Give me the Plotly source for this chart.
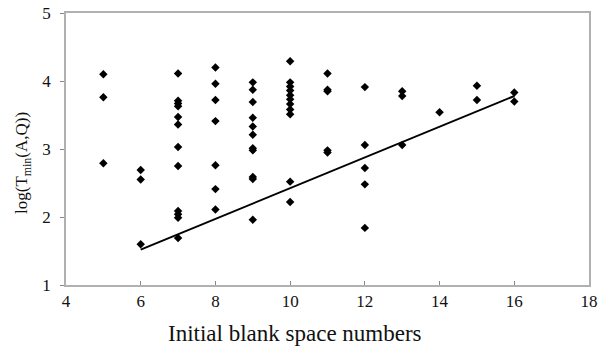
import plotly.graph_objects as go

# blank space numbers and log(Tmin) values
x5 = [4.10, 3.76, 2.79]
x6 = [2.69, 2.55, 1.60]
x7 = [4.11, 3.71, 3.67, 3.63, 3.47, 3.36, 3.03, 2.75, 2.09, 2.04, 1.99, 1.69]
x8 = [4.20, 3.96, 3.72, 3.41, 2.76, 2.41, 2.11]
x9 = [3.98, 3.87, 3.69, 3.46, 3.33, 3.21, 3.01, 2.98, 2.59, 2.56, 1.96]
x10 = [4.29, 3.98, 3.92, 3.86, 3.79, 3.73, 3.66, 3.58, 3.51, 2.52, 2.22]
x11 = [4.11, 3.87, 3.85, 2.98, 2.95]
x12 = [3.91, 3.06, 2.72, 2.48, 1.84]
x13 = [3.85, 3.78, 3.06]
x14 = [3.54]
x15 = [3.93, 3.72]
x16 = [3.83, 3.70]

groups = {5: x5, 6: x6, 7: x7, 8: x8, 9: x9, 10: x10, 11: x11,
          12: x12, 13: x13, 14: x14, 15: x15, 16: x16}

# fitted line end points
fit_x = [6, 16]
fit_y = [1.52, 3.78]

xs, ys = [], []
for k, vals in groups.items():
    xs += [k] * len(vals)
    ys += vals

fig = go.Figure()
fig.add_trace(go.Scatter(x=fit_x, y=fit_y, mode="lines",
                         line=dict(color="black", width=2), showlegend=False))
fig.add_trace(go.Scatter(x=xs, y=ys, mode="markers",
                         marker=dict(symbol="diamond", size=6.5, color="black"),
                         showlegend=False))

font = "Liberation Serif, Times New Roman, serif"
fig.update_layout(
    width=604, height=348,
    margin=dict(l=66, r=15, t=13, b=63),
    paper_bgcolor="white", plot_bgcolor="white",
    font=dict(family=font, size=17, color="#111"),
)
fig.update_xaxes(range=[4, 18], tickvals=[4, 6, 8, 10, 12, 14, 16, 18],
                 showgrid=False, zeroline=False, showline=True, mirror=True,
                 linecolor="#b0b0b0", linewidth=1.5, ticks="inside", ticklen=4,
                 tickcolor="#888", automargin=False, ticklabeloverflow="allow")
fig.update_yaxes(range=[1, 5], tickvals=[1, 2, 3, 4, 5],
                 showgrid=False, zeroline=False, showline=True, mirror=True,
                 linecolor="#b0b0b0", linewidth=1.5, ticks="outside", ticklen=4,
                 tickcolor="#888", ticklabelstandoff=6, automargin=False,
                 ticklabeloverflow="allow")

fig.add_annotation(text="Initial blank space numbers", xref="paper", yref="paper",
                   x=0.438, y=0, yanchor="middle", yshift=-48, showarrow=False,
                   font=dict(size=23))
fig.add_annotation(text="log(T<sub>min</sub>(A,Q))", xref="paper", yref="paper",
                   x=0, y=0.4485, xanchor="center", xshift=-43, textangle=-90,
                   showarrow=False, font=dict(size=17))

# drop the default body margin so the figure sits at the window corner
fig.write_html("out.html", config={"displayModeBar": False},
               post_script="document.body.style.margin='0';")
